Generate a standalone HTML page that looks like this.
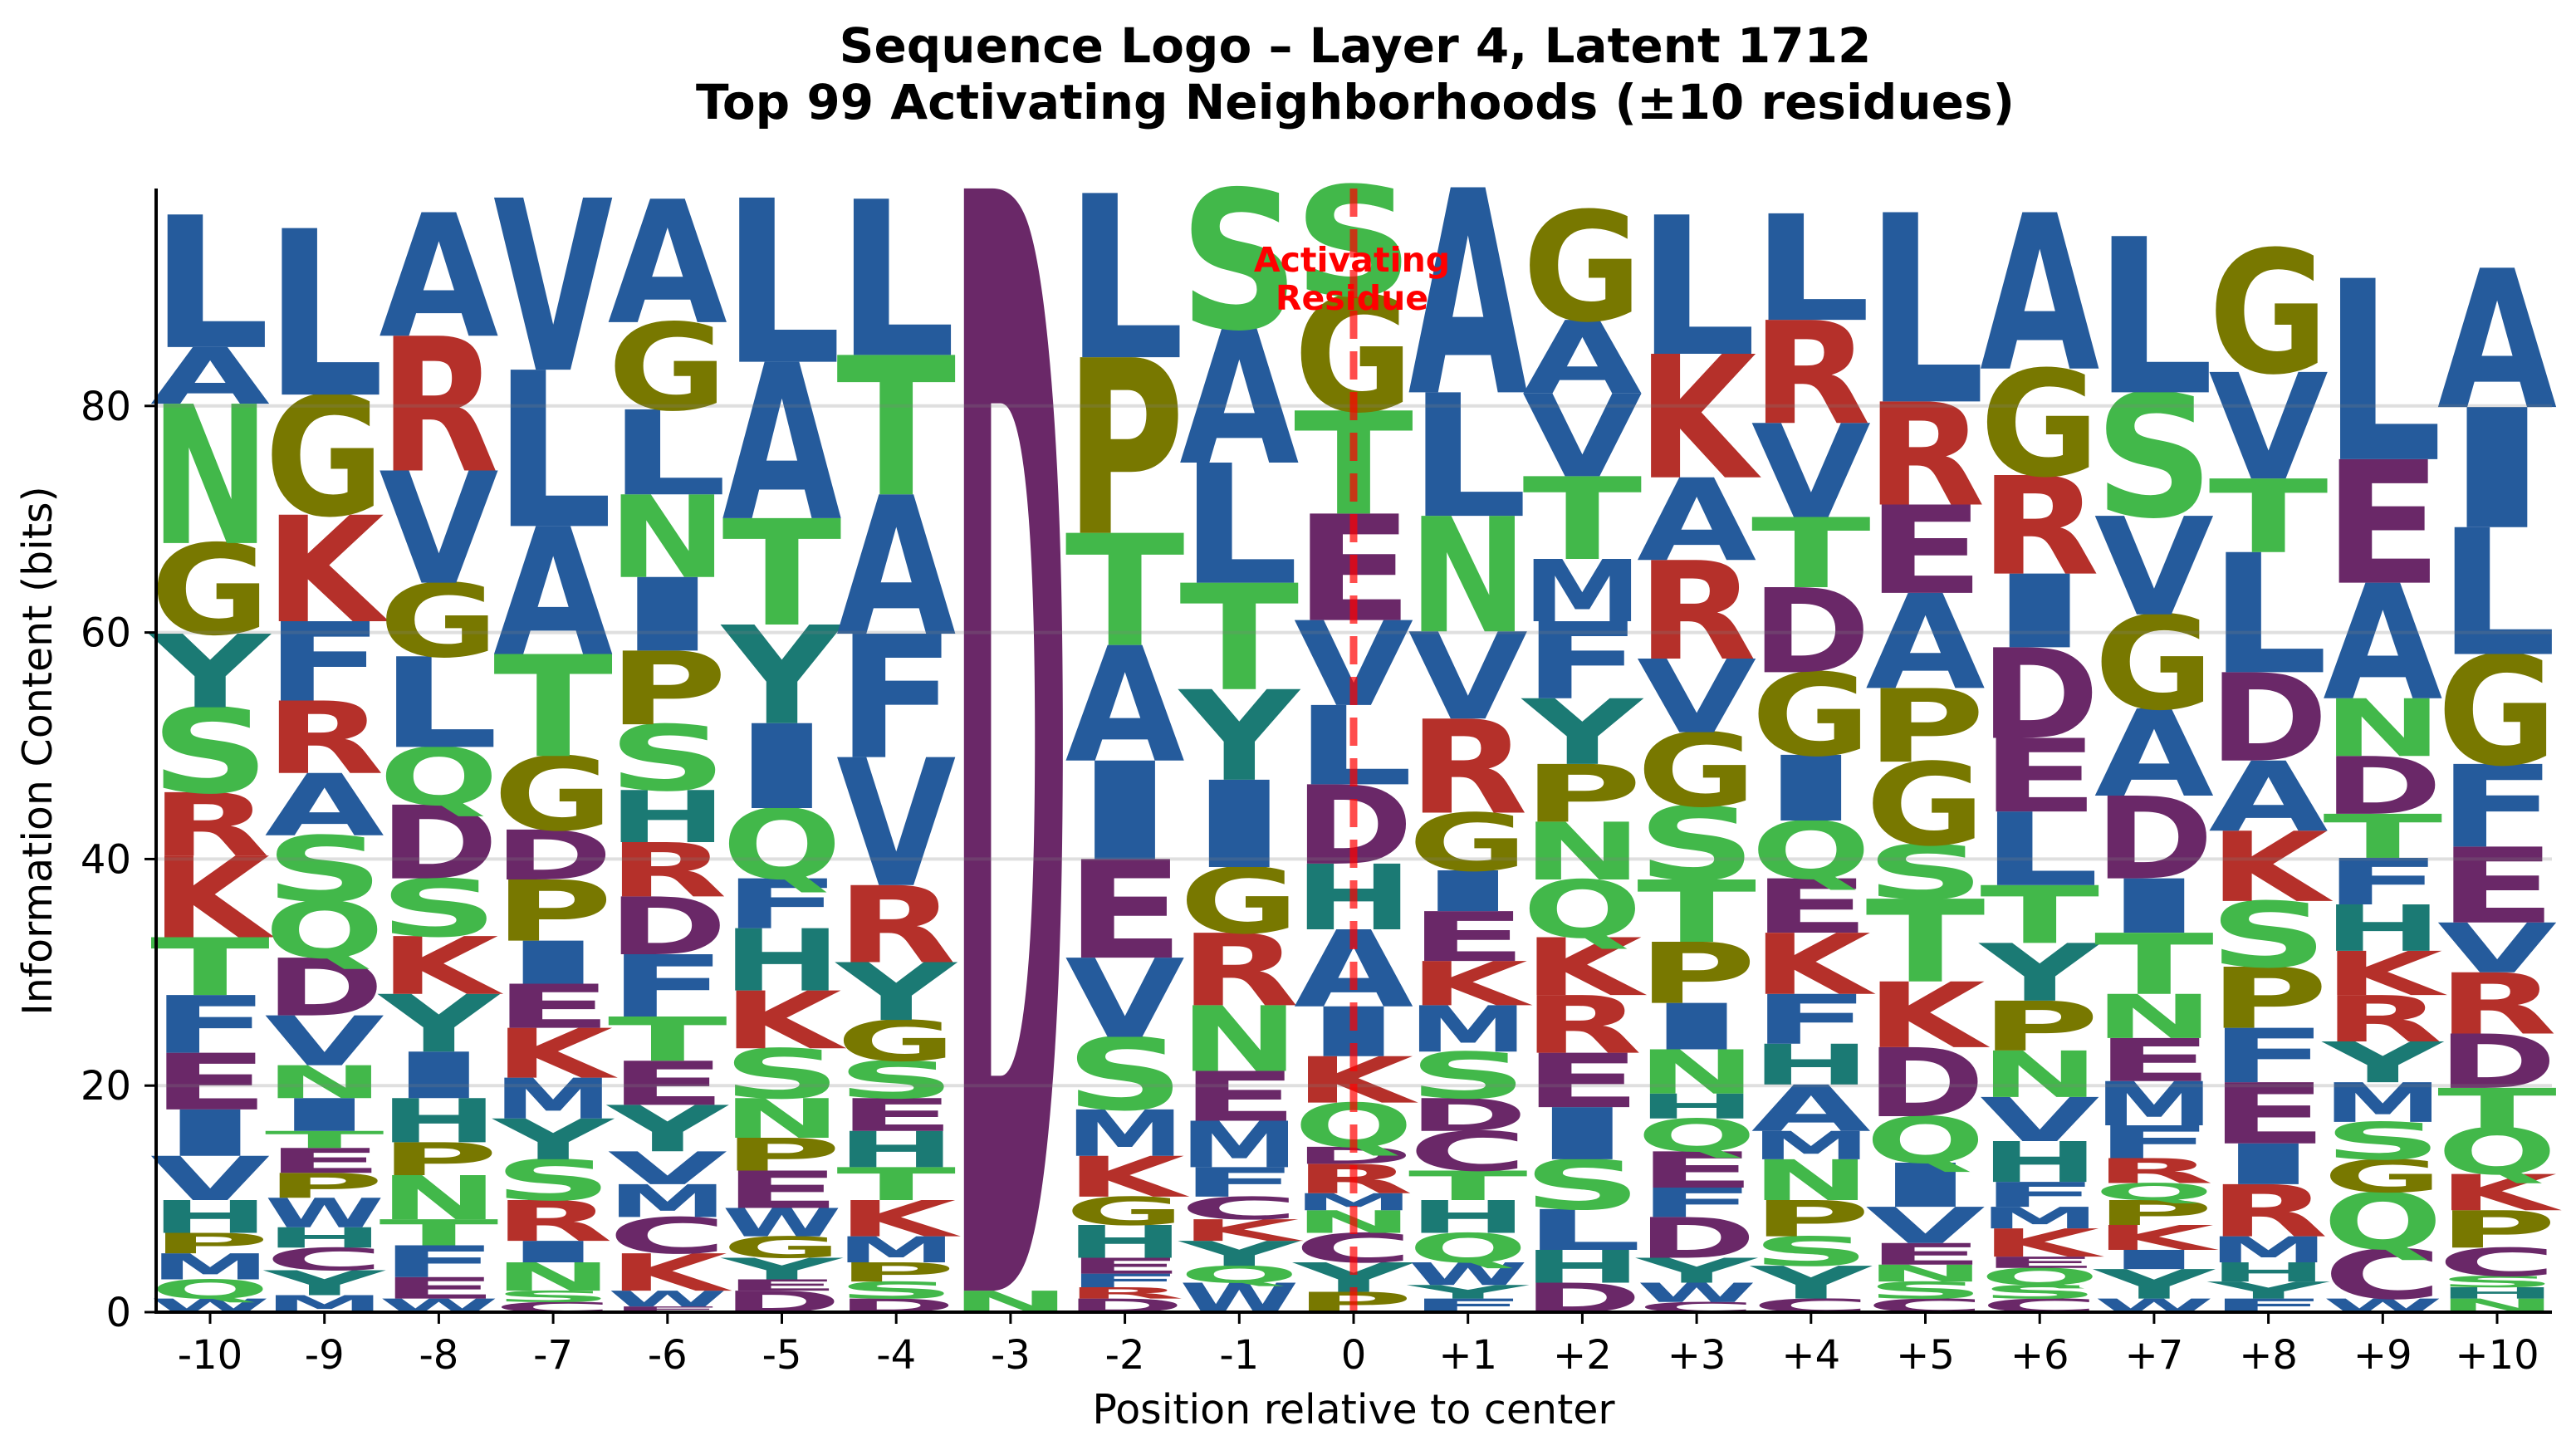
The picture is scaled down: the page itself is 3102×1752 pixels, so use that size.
<!DOCTYPE html>
<html><head><meta charset="utf-8"><style>
html,body{margin:0;padding:0;background:#fff;width:3102px;height:1752px;overflow:hidden;}
svg{display:block;}
text{font-family:"DejaVu Sans","Liberation Sans",sans-serif;}
</style></head>
<body>
<svg id="chart" xmlns="http://www.w3.org/2000/svg" width="3102" height="1752" viewBox="0 0 3102 1752" overflow="hidden">
<rect width="3102" height="1752" fill="#fff"/>
<g id="letters"></g>
<g id="grid"></g>
<g id="axes"></g>
<text x="1632" y="75" text-anchor="middle" font-size="58" font-weight="bold">Sequence Logo – Layer 4, Latent 1712</text>
<text x="1632" y="143" text-anchor="middle" font-size="58" font-weight="bold">Top 99 Activating Neighborhoods (±10 residues)</text>
<text x="1630" y="1714" text-anchor="middle" font-size="49">Position relative to center</text>
<text x="0" y="0" transform="translate(62,904) rotate(-90)" text-anchor="middle" font-size="49">Information Content (bits)</text>
</svg>
<script>
const positions = ["-10","-9","-8","-7","-6","-5","-4","-3","-2","-1","0","+1","+2","+3","+4","+5","+6","+7","+8","+9","+10"];
const yTicks = [0,20,40,60,80];
// letters per position, top to bottom
const letters = [
"LANGYSRKTFEIVHPMQW",
"LGKFRASQDVNITEPWHCYM",
"ARVGLQDSKYIHPNTFEW",
"VLATGDPIEKMYSRINSC",
"AGLNIPSHRDFTEYVMCKWE",
"LATYIQFHKSNPEWGYED",
"LTAFVRYGSEHTKMPSD",
"DN",
"LPTAIEVSMKGHEFRD",
"SALTYIGRNEMFCKYQW",
"SGTEVLDHAIKQDRMNCYP",
"ALNVRGIEKMSDCTHQWYF",
"GAVTMFYPNQKREISLHD",
"LKARVGSTPINHQEFDYWC",
"LRVTDGIQEKFHAMNPSYC",
"LREAPGSTKDQIVENSC",
"AGRIDELTYPNVHFMKEQSC",
"LSVGADITNEMFRQPKIYW",
"GVTLDAKSPFEIRMHYF",
"LEANDTFHKRYMSGQCW",
"AILGFEVRDTQKPCSHN"
];
const heights = [
[11.7,5,12.3,8,6.5,7.5,5.6,7.2,5.1,5.1,5,4.1,3.9,2.9,1.8,2.3,1.7,1.2],
[14.7,10.6,9.4,7,6.4,5.5,5.8,5,5.1,4.4,2.9,2.9,1.5,2.2,2.2,2.6,1.8,2,2.2,1.5],
[10.9,11.9,9.9,6.5,8,5.1,6.5,5.1,5.1,5.1,4.1,3.9,2.9,3.9,2.3,2.8,1.9,1.2],
[15.2,13.8,11.3,9,6.5,4.4,5.4,3.8,3.9,4.4,3.6,3.6,3.6,3.6,1.9,2.5,1,0.9],
[10.9,7.7,7.5,7.3,6.5,6.5,5.8,4.6,4.8,5.1,5.5,3.9,3.9,4.1,2.9,2.9,3.2,3.3,1.4,0.5],
[14.5,13.8,9.4,8.7,7.5,6.2,4.4,5.5,5.1,4.4,3.5,2.9,3.3,2.5,1.9,1.9,1,1.9],
[13.8,12.3,12.3,10.9,11.3,6.8,5.1,3.6,3.3,2.9,3.2,2.9,3.2,2.3,1.7,1.5,1.2],
[97.3,1.9],
[14.5,15.5,9.9,10.2,8.7,8.7,7,6.4,4.1,3.6,2.5,2.9,1.4,1.2,1,1.2],
[12.3,11.9,10.6,9.4,8,7.7,5.8,6.4,5.8,4.4,4.1,2.6,2,1.9,2.2,1.5,2.6],
[9.7,10.2,9.1,9.4,7.5,7,7,5.8,6.8,4.4,4.1,3.9,1.5,2.6,1.5,2,2.6,2.6,1.8],
[18.1,10.9,10.2,7.7,8.3,5.1,3.6,4.4,3.9,4.1,4.1,2.9,3.5,2.6,2.9,2.6,2,1.2,1.2],
[9.7,6.5,7.3,7.3,5.5,6.8,5.8,5.1,5.1,5.1,5.1,5.1,4.8,4.6,4.4,3.6,2.9,2.6],
[12.3,10.9,7.3,8.7,6.5,6.5,6.5,5.5,5.4,4.1,3.9,2.2,2.9,3.2,2.6,3.6,2.2,1.7,0.9],
[9.4,9.1,8.3,6.2,7.5,7.3,5.8,5.1,4.8,5.4,4.4,3.6,4.1,2.5,3.6,3.2,2.6,2.9,1.2],
[16.7,9.1,7.8,8.4,6.5,7.3,4.8,7.3,5.8,6.1,4.1,3.9,3.2,1.9,1.5,1.5,1.2],
[13.8,9.4,8.7,6.5,8,6.5,6.5,5.1,5.1,4.4,4.1,3.9,3.6,2.2,1.9,2.5,1,1.5,1.2,1.2],
[13.8,10.9,8.7,8.3,7.7,7.3,4.8,5.4,3.9,3.8,3.9,2.9,2.2,1.5,2.2,2.2,1.7,2.6,1.2],
[10.9,9.4,6.5,10.6,7.8,6.2,6.2,5.8,5.4,4.8,5.4,3.6,4.6,2.3,1.7,1.5,1.2],
[16,10.9,10.2,5.1,5.1,3.9,4.1,4.1,3.9,4.1,3.6,3.5,3.3,2.9,5,4.4,1.2],
[12.3,10.6,11.2,9.7,7.3,6.7,4.4,5.4,4.8,3.5,4.1,3.2,3.3,2.5,1,1,1.2]
];
const colorOf = {A:"#255b9c",L:"#255b9c",V:"#255b9c",I:"#255b9c",M:"#255b9c",F:"#255b9c",W:"#255b9c",
S:"#42b84a",T:"#42b84a",N:"#42b84a",Q:"#42b84a",G:"#787800",P:"#787800",
K:"#b5302a",R:"#b5302a",D:"#6a2868",E:"#6a2868",C:"#6a2868",H:"#1b7a74",Y:"#1b7a74"};
const NS="http://www.w3.org/2000/svg";
const y0=1580, yScale=13.64, x0=253, dx=137.7, boxW=131;
function xPos(i){return x0+dx*i;}
function yPos(v){return y0-v*yScale;}
const gL=document.getElementById('letters');
positions.forEach(function(p,i){
  const ls=letters[i], hs=heights[i];
  let base=0;
  for(let k=ls.length-1;k>=0;k--){
    const h=hs[k], ch=ls[k];
    const left=xPos(i)-boxW/2, bottom=yPos(base);
    const t=document.createElementNS(NS,'text');
    
    
    t.setAttribute('x',-boxW*0.05);
    t.setAttribute('y',0);
    t.setAttribute('font-size',100);
    t.setAttribute('font-weight','bold');
    t.setAttribute('textLength',boxW*1.1);
    t.setAttribute('lengthAdjust','spacingAndGlyphs');
    t.setAttribute('fill',colorOf[ch]);
    t.setAttribute('transform','translate('+left+','+bottom+') scale(1,'+(h*yScale/72.9)+')');
    t.textContent=ch;
    gL.appendChild(t);
    base+=h;
  }
});
const gG=document.getElementById('grid');
yTicks.forEach(function(v){
  if(v===0)return;
  const l=document.createElementNS(NS,'line');
  
  
  l.setAttribute('x1',190);l.setAttribute('x2',3073);
  l.setAttribute('y1',yPos(v));l.setAttribute('y2',yPos(v));
  l.setAttribute('stroke','rgba(128,128,128,0.25)');l.setAttribute('stroke-width',4);
  gG.appendChild(l);
});
const gA=document.getElementById('axes');
function add(tag,attrs,txt){const e=document.createElementNS(NS,tag);for(const k in attrs)e.setAttribute(k,attrs[k]);if(txt!==undefined)e.textContent=txt;gA.appendChild(e);return e;}
const cl=add('line',{x1:xPos(10),x2:xPos(10),y1:227,y2:y0,stroke:'rgba(255,0,0,0.7)','stroke-width':9,'stroke-dasharray':'34 15'});


const at1=add('text',{x:xPos(10)-2,y:327,'text-anchor':'middle','font-size':41,'font-weight':'bold',fill:'#ff0000'},'Activating');


const at2=add('text',{x:xPos(10)-2,y:373,'text-anchor':'middle','font-size':41,'font-weight':'bold',fill:'#ff0000'},'Residue');


const sl=add('line',{x1:188,x2:188,y1:227,y2:y0+2,stroke:'#000','stroke-width':4});


const sb=add('line',{x1:186,x2:3073,y1:y0,y2:y0,stroke:'#000','stroke-width':4});


yTicks.forEach(function(v){
  const tk=add('line',{x1:174,x2:188,y1:yPos(v),y2:yPos(v),stroke:'#000','stroke-width':3});
  
  
  const tl=add('text',{x:158,y:yPos(v)+17,'text-anchor':'end','font-size':48},String(v));
  
  
});
positions.forEach(function(p,i){
  const tk=add('line',{x1:xPos(i),x2:xPos(i),y1:y0,y2:y0+14,stroke:'#000','stroke-width':3});
  
  
  const tl=add('text',{x:xPos(i),y:1648,'text-anchor':'middle','font-size':48},p);
  
  
});
</script>
</body></html>
